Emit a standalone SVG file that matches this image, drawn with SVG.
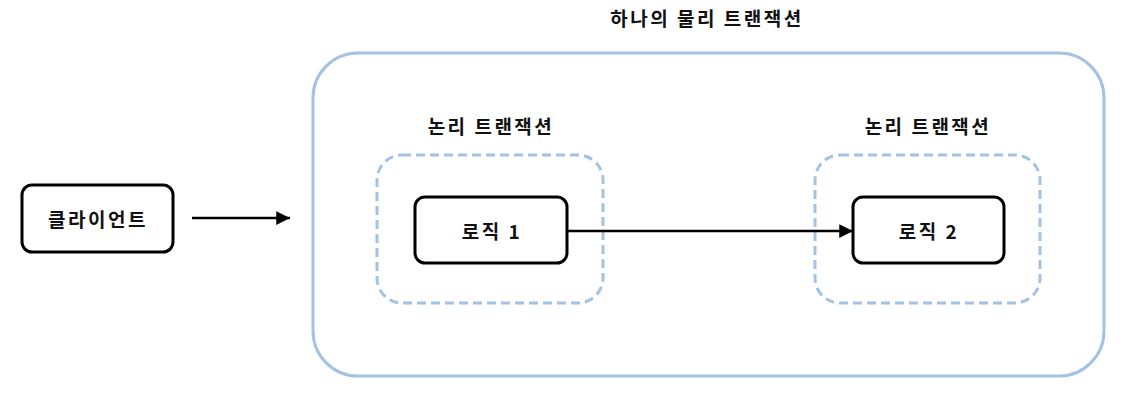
<svg xmlns="http://www.w3.org/2000/svg" width="1132" height="401" viewBox="0 0 1132 401">
<defs>
<style>
.t{font-family:"Noto Sans CJK KR","Noto Sans",sans-serif;font-weight:bold;font-size:19px;letter-spacing:2.5px;fill:#111;text-anchor:middle;dominant-baseline:central}
.n{fill:#fff;stroke:#000;stroke-width:3}
.outer{fill:none;stroke:#a4c2e4;stroke-width:3}
.dash{fill:none;stroke:#a4c2e4;stroke-width:3;stroke-dasharray:9 5}
.c{stroke:#000;stroke-width:2.5;fill:none}
</style>
<marker id="ah" viewBox="0 0 10 10" refX="10" refY="5" markerWidth="5.5" markerHeight="5.5" orient="auto" markerUnits="strokeWidth">
<path d="M0,0 L10,5 L0,10 z" fill="#000"/>
</marker>
</defs>
<rect width="1132" height="401" fill="#fff"/>
<g id="physical">
<rect class="outer" x="313" y="53" width="791" height="323" rx="45"/>
<text class="t" x="707" y="17">하나의 물리 트랜잭션</text>
</g>
<g id="logical1">
<rect class="dash" x="377" y="155" width="226" height="148" rx="25"/>
<text class="t" x="491" y="125">논리 트랜잭션</text>
</g>
<g id="logical2">
<rect class="dash" x="815" y="155" width="225" height="148" rx="25"/>
<text class="t" x="928" y="125">논리 트랜잭션</text>
</g>
<g id="client">
<rect class="n" x="22" y="185" width="151" height="67" rx="10"/>
<text class="t" x="98" y="218">클라이언트</text>
</g>
<g id="logic1">
<rect class="n" x="415" y="197" width="152" height="66" rx="10"/>
<text class="t" x="492" y="230">로직 1</text>
</g>
<g id="logic2">
<rect class="n" x="853" y="197" width="151" height="66" rx="10"/>
<text class="t" x="929" y="230">로직 2</text>
</g>
<g id="connectors">
<line class="c" x1="192" y1="218" x2="290" y2="218" marker-end="url(#ah)"/>
<line class="c" x1="567" y1="231" x2="853" y2="231" marker-end="url(#ah)"/>
</g>
</svg>
